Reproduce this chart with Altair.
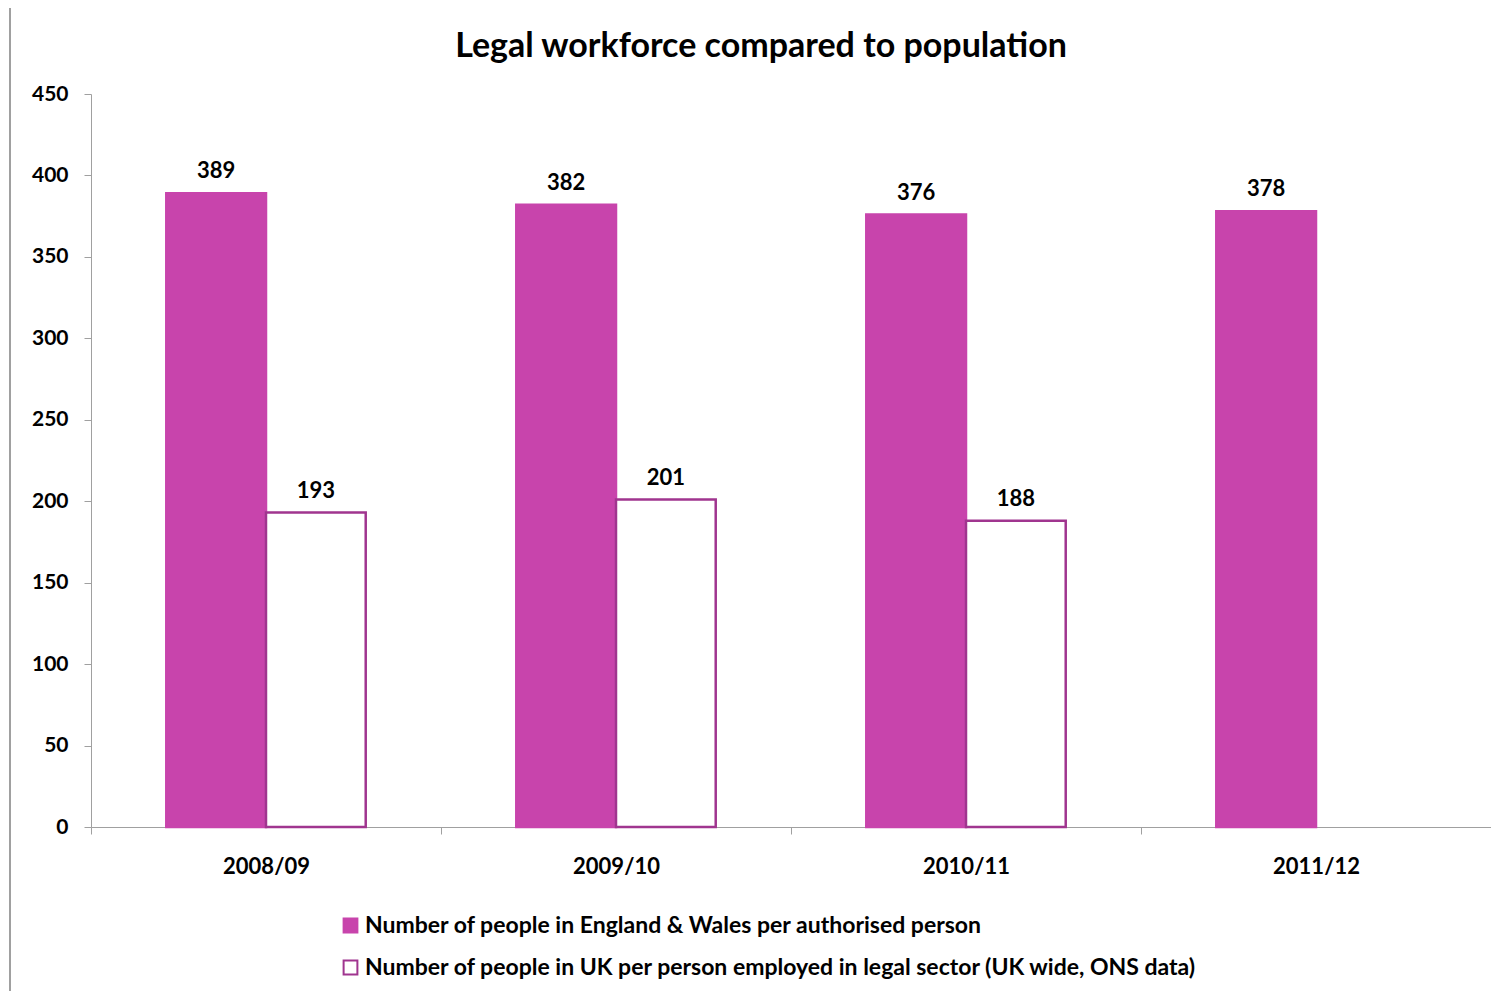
import altair as alt
import pandas as pd

years = ["2008/09", "2009/10", "2010/11", "2011/12"]
series = [
    "Number of people in England & Wales per authorised person",
    "Number of people in UK per person employed in legal sector (UK wide, ONS data)",
]
ew_values = [389, 382, 376, 378]
uk_values = [193, 201, 188, None]

rows = []
for i, y in enumerate(years):
    rows.append({"year": y, "series": series[0], "value": ew_values[i]})
    if uk_values[i] is not None:
        rows.append({"year": y, "series": series[1], "value": uk_values[i]})
df = pd.DataFrame(rows)

FONT = "Lato"
PINK = "#C844AC"
EDGE = "#A0358F"

x = alt.X("year:N", sort=years, title=None,
          scale=alt.Scale(paddingInner=0, paddingOuter=0),
          axis=alt.Axis(labelAngle=0, tickBand="extent", labelFontSize=22, labelFontWeight="bold",
                        labelFont=FONT, labelColor="#000000", labelPadding=22, tickSize=7,
                        domainColor="#A0A0A0", tickColor="#A0A0A0", grid=False))
xo = alt.XOffset("series:N", sort=series,
                 scale=alt.Scale(domain=series, paddingOuter=0.755, paddingInner=0))
y = alt.Y("value:Q", title=None,
          scale=alt.Scale(domain=[0, 450], nice=False),
          axis=alt.Axis(values=list(range(0, 451, 50)), labelFontSize=21, labelFontWeight="bold",
                        labelFont=FONT, labelColor="#000000", labelPadding=16, tickSize=7,
                        domainColor="#A0A0A0", tickColor="#A0A0A0", grid=False))

bars = alt.Chart(df).mark_bar(strokeWidth=2.5).encode(
    x=x, xOffset=xo, y=y,
    fill=alt.Fill("series:N", sort=series,
                  scale=alt.Scale(domain=series, range=[PINK, "#FFFFFF"]),
                  legend=alt.Legend(title=None, orient="none", legendX=248, legendY=820,
                                    direction="vertical", symbolType="square", symbolSize=190,
                                    symbolStrokeWidth=2, labelFontSize=23, labelFontWeight="bold",
                                    labelFont=FONT, labelColor="#000000", labelLimit=1200,
                                    rowPadding=18, labelOffset=3)),
    stroke=alt.Stroke("series:N", sort=series,
                      scale=alt.Scale(domain=series, range=[PINK, EDGE]), legend=None),
)

labels = alt.Chart(df).mark_text(baseline="bottom", dy=-10, fontSize=22, fontWeight="bold",
                                 font=FONT, color="#000000").encode(
    x=x, xOffset=xo, y=y, text=alt.Text("value:Q"))

frame = alt.Chart(df).mark_rule(color="#A0A0A0", strokeWidth=1.5).encode(
    x=alt.value(-81), y=alt.value(-86), y2=alt.value(900))

chart = alt.layer(frame, bars, labels).properties(
    width=1400, height=733,
    title=alt.TitleParams("Legal workforce compared to population", fontSize=34, fontWeight="bold",
                          font=FONT, color="#000000", anchor="middle", dx=-30, offset=0, dy=57),
    autosize=alt.AutoSizeParams(type="none"),
    padding={"left": 83, "top": 86, "right": 0, "bottom": 164},
).configure(background="#FFFFFF", view=alt.ViewConfig(stroke=None))

chart.save("out.html", embed_options={"renderer": "svg", "actions": False})
